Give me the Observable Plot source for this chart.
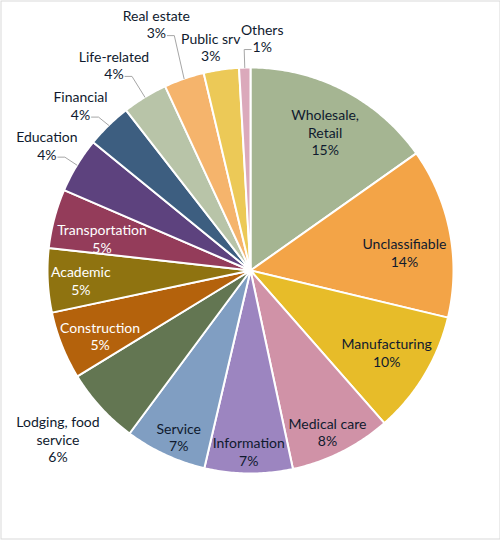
<!DOCTYPE html>
<html>
<head>
<meta charset="utf-8">
<script src="https://cdn.jsdelivr.net/npm/d3@7"></script>
<script src="https://cdn.jsdelivr.net/npm/@observablehq/plot@0.6"></script>
<style>
  html, body { margin: 0; padding: 0; background: #fff; }
  #chart svg { display: block; }
</style>
</head>
<body>
<div id="chart"></div>
<script>
// ---- data (clockwise from 12 o'clock) ----
const categories = ["Wholesale, Retail", "Unclassifiable", "Manufacturing", "Medical care", "Information", "Service", "Lodging, food service", "Construction", "Academic", "Transportation", "Education", "Financial", "Life-related", "Real estate", "Public srv", "Others"];
const shares = [15.2, 13.5, 9.8, 8.1, 7.0, 6.5, 6.1, 5.4, 5.1, 4.7, 4.4, 3.6, 3.6, 3.2, 2.8, 0.9];
const labelNames = ["Wholesale,\nRetail", "Unclassifiable", "Manufacturing", "Medical care", "Information", "Service", "Lodging, food\nservice", "Construction", "Academic", "Transportation", "Education", "Financial", "Life-related", "Real estate", "Public srv", "Others"];

// ---- styling ----
const palette = ["#A5B592", "#F3A447", "#E7BC29", "#D092A7", "#9C85C0", "#809EC2", "#637652", "#B4620C", "#8F7310", "#943C5A", "#5D427E", "#3D5E80", "#B8C4A8", "#F5B46C", "#ECC957", "#DBA9BB"];
const whiteText = new Set(["Construction", "Academic", "Transportation"]);
// label placement: distance from centre (px) and small angular nudge (deg), leader line flag
const labelLayout = {
  "Wholesale, Retail": {r: 157, nudge: 1},
  "Unclassifiable": {r: 155, nudge: 4.2},
  "Manufacturing": {r: 159, nudge: 0},
  "Medical care": {r: 179, nudge: 1.2},
  "Information": {r: 181, nudge: 0},
  "Service": {r: 181, nudge: -1.5},
  "Lodging, food service": {r: 256, nudge: 1.2},
  "Construction": {r: 164, nudge: -1.8},
  "Academic": {r: 170, nudge: -0.6},
  "Transportation": {r: 152, nudge: -2.6},
  "Education": {r: 239, nudge: 0.3, leader: true},
  "Financial": {r: 237, nudge: -1.5, leader: true},
  "Life-related": {r: 247, nudge: -2.2, leader: true},
  "Real estate": {r: 264, nudge: -1.8, leader: true},
  "Public srv": {r: 227, nudge: -1.8},
  "Others": {r: 233, nudge: 4.5, leader: true}
};
const R = 203;
const LINE = 17.5;
const FONT = 14;

// ---- geometry from the data ----
const total = d3.sum(shares);
const pie = d3.pie().sort(null).value(d => d)(shares);
const slicePts = [];
const labels = [];
const leaders = [];
pie.forEach((p, i) => {
  const cat = categories[i];
  const n = Math.max(2, Math.ceil((p.endAngle - p.startAngle) / 0.01));
  slicePts.push({cat, x: 0, y: 0});
  for (let k = 0; k <= n; k++) {
    const a = p.startAngle + (p.endAngle - p.startAngle) * k / n;
    slicePts.push({cat, x: R * Math.sin(a), y: -R * Math.cos(a)});
  }
  slicePts.push({cat, x: 0, y: 0});
  const mid = (p.startAngle + p.endAngle) / 2;
  const L = labelLayout[cat];
  const a = mid + L.nudge * Math.PI / 180;
  const lx = L.r * Math.sin(a), ly = -L.r * Math.cos(a);
  const pct = Math.round(shares[i] / total * 100) + "%";
  const text = labelNames[i] + "\n" + pct;
  labels.push({cat, x: lx, y: ly, text, color: whiteText.has(cat) ? "#ffffff" : "#0f1a2e"});
  if (L.leader) {
    const nLines = text.split("\n").length;
    const pctY = ly + (nLines - 1) * LINE / 2 + 3;
    const ex = R * Math.sin(mid), ey = -R * Math.cos(mid);
    const side = ex > lx ? 1 : -1;
    const endX = lx + side * 11;
    leaders.push({id: cat, x: ex, y: ey});
    leaders.push({id: cat, x: endX + side * 7, y: pctY});
    leaders.push({id: cat, x: endX, y: pctY});
  }
});

const chart = Plot.plot({
  width: 500,
  height: 540,
  margin: 0,
  style: {background: "#fff", fontFamily: "Lato, sans-serif"},
  x: {domain: [-250, 250], range: [0, 500], axis: null},
  y: {domain: [-270, 270], range: [0, 540], axis: null},
  color: {domain: categories, range: palette},
  marks: [
    Plot.frame({stroke: "#d9d9d9", inset: 0.5, insetBottom: 1.5}),
    Plot.line(slicePts, {x: "x", y: "y", z: "cat", fill: "cat", stroke: "#ffffff", strokeWidth: 2, strokeLinejoin: "round"}),
    Plot.line(leaders, {x: "x", y: "y", z: "id", stroke: "#a6a6a6", strokeWidth: 1}),
    Plot.text(labels, {x: "x", y: "y", text: "text", fill: "color", fontSize: FONT, lineHeight: LINE / FONT, fontFamily: "Lato, sans-serif"})
  ]
});
document.getElementById("chart").appendChild(chart);
</script>
</body>
</html>
